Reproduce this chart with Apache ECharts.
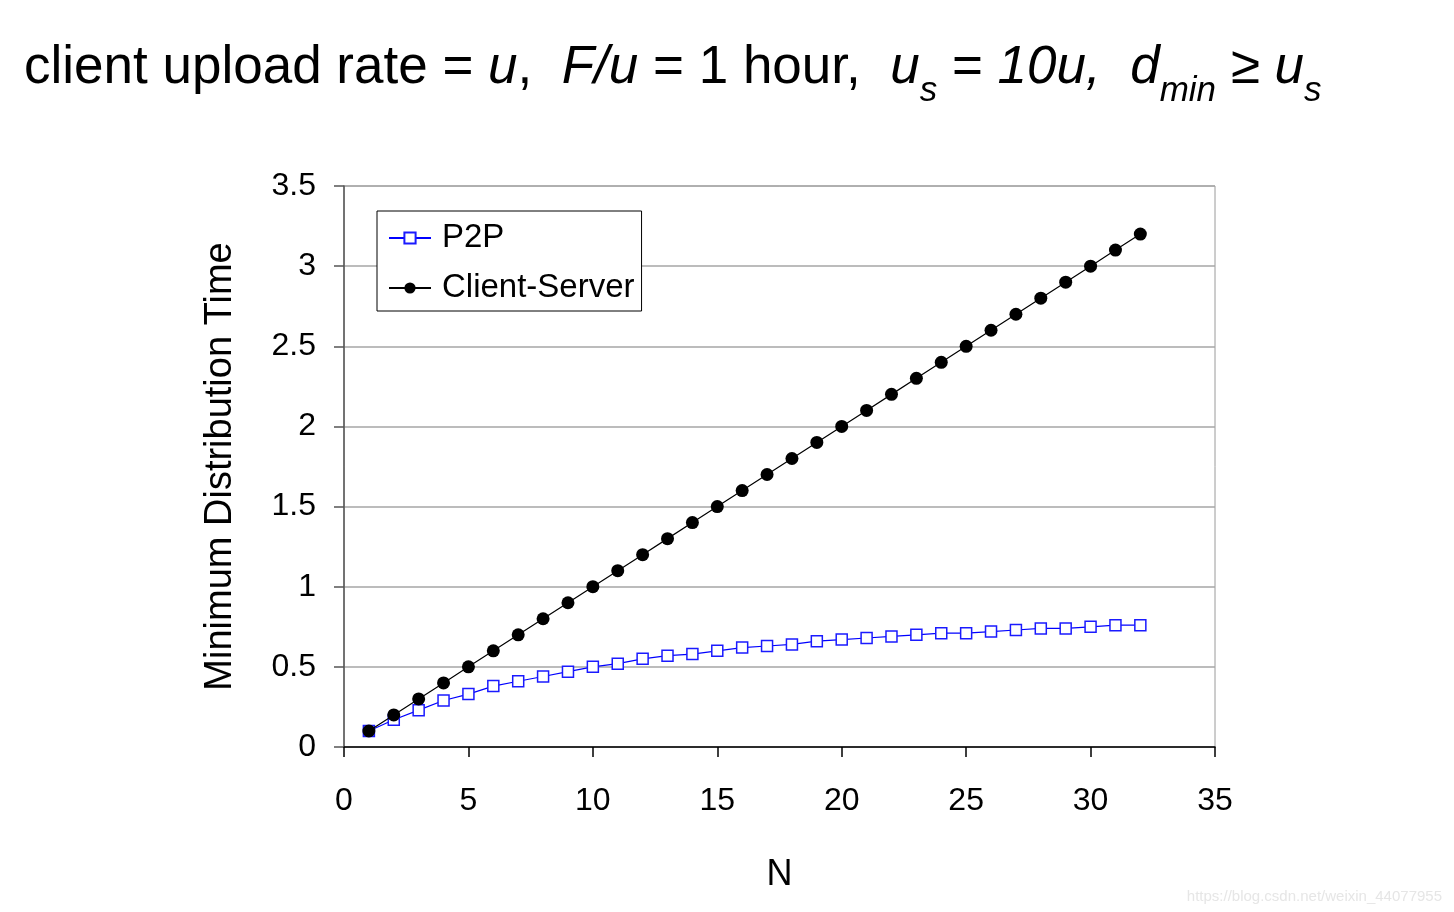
<!doctype html>
<html>
<head>
<meta charset="UTF-8">
<script src="https://cdn.jsdelivr.net/npm/echarts@6/dist/echarts.min.js"></script>
<style>
  html, body { margin: 0; padding: 0; background: #fff; }
  #chart { width: 1454px; height: 912px; }
</style>
</head>
<body>
<div id="chart"></div>
<script>
    // N = number of peers
    var peers = [1, 2, 3, 4, 5, 6, 7, 8, 9, 10, 11, 12, 13, 14, 15, 16,
                 17, 18, 19, 20, 21, 22, 23, 24, 25, 26, 27, 28, 29, 30, 31, 32];
    var p2pTime = [0.10, 0.17, 0.23, 0.29, 0.33, 0.38, 0.41, 0.44, 0.47, 0.50, 0.52, 0.55,
                   0.57, 0.58, 0.60, 0.62, 0.63, 0.64, 0.66, 0.67, 0.68, 0.69, 0.70, 0.71,
                   0.71, 0.72, 0.73, 0.74, 0.74, 0.75, 0.76, 0.76];
    var csTime = [0.1, 0.2, 0.3, 0.4, 0.5, 0.6, 0.7, 0.8, 0.9, 1.0, 1.1, 1.2, 1.3, 1.4, 1.5, 1.6,
                  1.7, 1.8, 1.9, 2.0, 2.1, 2.2, 2.3, 2.4, 2.5, 2.6, 2.7, 2.8, 2.9, 3.0, 3.1, 3.2];
    var xTicks = [0, 5, 10, 15, 20, 25, 30, 35];
    var yTicks = [0, 0.5, 1, 1.5, 2, 2.5, 3, 3.5];

    function pairs(ys) {
        return peers.map(function (n, i) { return [n, ys[i]]; });
    }

    var font = 'Liberation Sans, Arial, sans-serif';
    var chart = echarts.init(document.getElementById('chart'));
    var option = {
        backgroundColor: '#fff',
        animation: false,
        title: {
            left: 19,
            top: 30,
            text: '{n|client upload rate = }{i|u}{n|,  }{i|F/u}{n| = 1 hour,  }{i|u}{sub|s}{n| = }{i|10u,}{n|  }{i|d}{sub|min}{n| ≥ }{i|u}{sub|s}',
            textStyle: {
                fontWeight: 'normal',
                rich: {
                    n: { fontFamily: font, fontSize: 53, fontWeight: 'normal', color: '#000', verticalAlign: 'bottom', lineHeight: 60 },
                    i: { fontFamily: font, fontSize: 53, fontWeight: 'normal', fontStyle: 'italic', color: '#000', verticalAlign: 'bottom', lineHeight: 60 },
                    sub: { fontFamily: font, fontSize: 35, fontWeight: 'normal', fontStyle: 'italic', color: '#000', verticalAlign: 'bottom', lineHeight: 30, padding: [0, 0, -14, 0] }
                }
            }
        },
        grid: {
            left: 344, right: 239, top: 186, bottom: 165,
            show: true, borderColor: '#9a9a9a', borderWidth: 1
        },
        legend: {
            left: 377, top: 211,
            orient: 'vertical',
            padding: [9, 7, 5, 11],
            itemGap: 14,
            itemWidth: 42,
            itemHeight: 14,
            borderColor: '#000',
            borderWidth: 1,
            backgroundColor: '#fff',
            textStyle: { fontFamily: font, fontSize: 33, color: '#000', lineHeight: 36, padding: [0, 0, 0, 6] },
            data: ['P2P', 'Client-Server']
        },
        xAxis: {
            type: 'value',
            min: 0, max: 35, interval: 5,
            name: 'N',
            nameLocation: 'middle',
            nameGap: 110,
            nameTextStyle: { fontFamily: font, fontSize: 36, color: '#000' },
            axisLine: { onZero: false, lineStyle: { color: '#000', width: 1.5 } },
            axisTick: { show: true, length: 10, inside: false, lineStyle: { color: '#000', width: 1.5 },
                        customValues: xTicks },
            axisLabel: { fontFamily: font, fontSize: 32, color: '#000', margin: 38, customValues: xTicks },
            splitLine: { show: false }
        },
        yAxis: {
            type: 'value',
            min: 0, max: 3.5, interval: 0.5,
            name: 'Minimum Distribution Time',
            nameLocation: 'middle',
            nameGap: 104,
            nameTextStyle: { fontFamily: font, fontSize: 38, color: '#000' },
            axisLine: { show: true, lineStyle: { color: '#555', width: 1.5 } },
            axisTick: { show: true, length: 10, lineStyle: { color: '#555', width: 1.5 }, customValues: yTicks },
            axisLabel: { fontFamily: font, fontSize: 32, color: '#000', margin: 28, customValues: yTicks },
            splitLine: { show: true, lineStyle: { color: '#a6a6a6', width: 1.5 } }
        },
        series: [
            {
                name: 'P2P',
                type: 'line',
                data: pairs(p2pTime),
                symbol: 'rect',
                symbolSize: 11,
                itemStyle: { color: '#fff', borderColor: '#1a1aff', borderWidth: 1.5 },
                lineStyle: { color: '#0000ff', width: 1.2 },
                z: 3
            },
            {
                name: 'Client-Server',
                type: 'line',
                data: pairs(csTime),
                symbol: 'circle',
                symbolSize: 13,
                itemStyle: { color: '#000', borderColor: '#000', borderWidth: 0 },
                lineStyle: { color: '#000', width: 1.2 },
                z: 4
            }
        ],
        graphic: [{
            type: 'text',
            right: 12, bottom: 8,
            style: { text: 'https://blog.csdn.net/weixin_44077955', fontFamily: font, fontSize: 15, fill: '#e6e6e6' }
        }]
    };
    chart.setOption(option);
</script>
</body>
</html>
